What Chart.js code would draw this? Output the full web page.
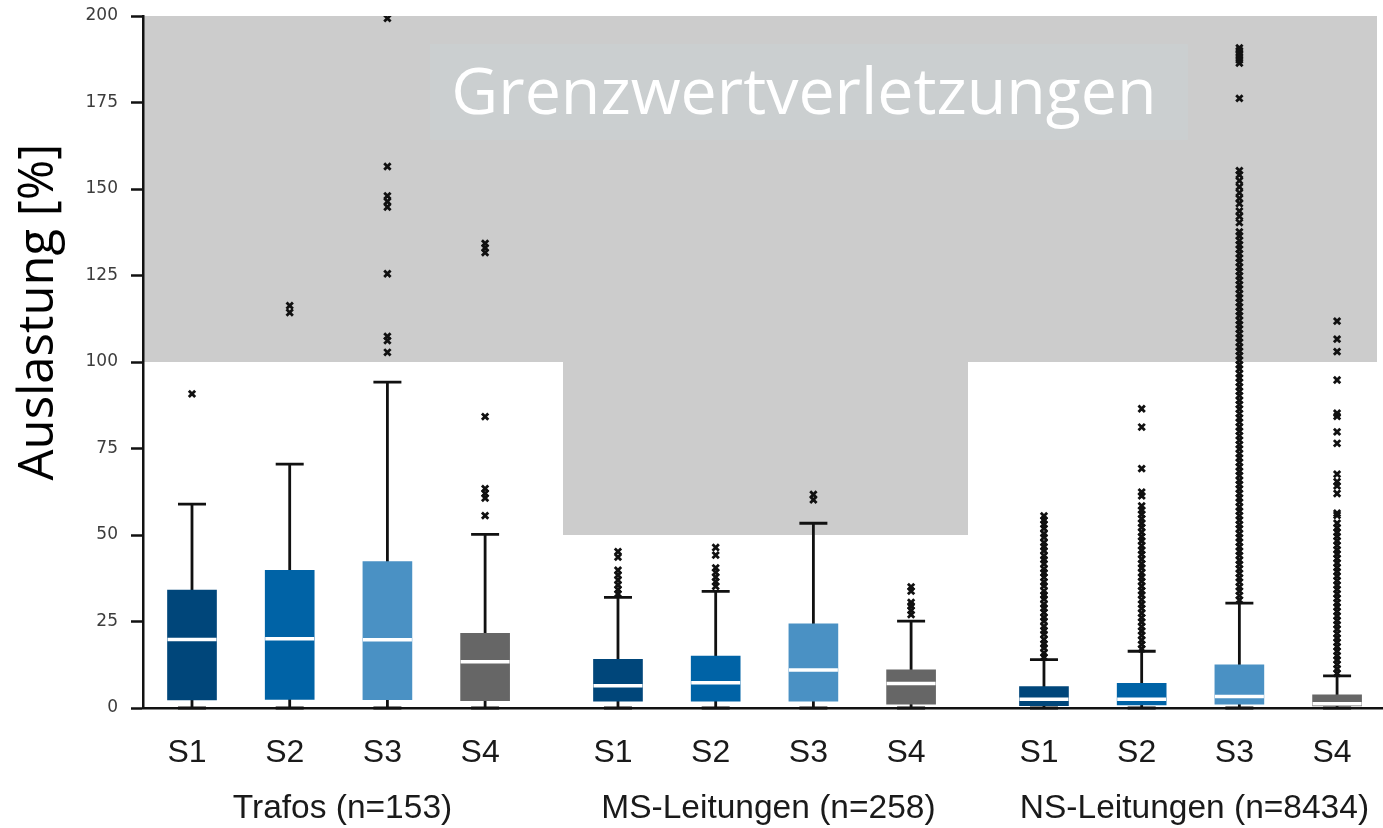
<!DOCTYPE html>
<html>
<head>
<meta charset="utf-8">
<script src="https://cdn.jsdelivr.net/npm/chart.js@4.4.1/dist/chart.umd.min.js"></script>
<style>
  html, body { margin: 0; padding: 0; background: #ffffff; }
  #wrap { width: 1383px; height: 828px; }
</style>
</head>
<body>
<div id="wrap"><canvas id="c" width="1383" height="828"></canvas></div>
<script>
// Betriebsmittelgruppen und Szenarien
const gruppen = ['Trafos (n=153)', 'MS-Leitungen (n=258)', 'NS-Leitungen (n=8434)'];
const szenarien = ['S1', 'S2', 'S3', 'S4'];
// Grenzwert je Gruppe [%]
const grenzwerte = [100, 50, 100];

// Boxplot-Kennwerte, Reihenfolge: Trafos S1..S4, MS S1..S4, NS S1..S4
const whiskerUnten = [0, 0, 0, 0,  0, 0, 0, 0,  0, 0, 0, 0];
const quartil1     = [2.3, 2.5, 2.4, 2.1,  2.0, 2.0, 2.0, 1.1,  0.7, 0.9, 1.1, 0.6];
const medianWerte  = [19.8, 20.0, 19.7, 13.4,  6.4, 7.3, 11.0, 7.1,  2.5, 2.5, 3.3, 1.2];
const quartil3     = [34.1, 39.8, 42.3, 21.6,  14.1, 15.0, 24.3, 11.0,  6.2, 7.1, 12.5, 3.8];
const whiskerOben  = [58.9, 70.5, 94.2, 50.2,  32.0, 33.7, 53.4, 25.1,  14.0, 16.4, 30.3, 9.3];

// Ausreißer
const ausreisserTrafoS1 = [90.8];
const ausreisserTrafoS2 = [114.3, 116.3];
const ausreisserTrafoS3 = [199.3, 156.5, 148.0, 146.4, 144.8, 125.5, 107.4, 106.2, 102.8];
const ausreisserTrafoS4 = [134.3, 133.0, 131.6, 84.2, 63.4, 62.0, 60.7, 55.6];
const ausreisserMsS1 = [45.2, 43.6, 39.8, 38.4, 37.0, 35.6, 34.2, 33.0];
const ausreisserMsS2 = [46.4, 44.2, 40.5, 39.2, 37.8, 36.5, 35.2];
const ausreisserMsS3 = [61.7, 60.2];
const ausreisserMsS4 = [35.0, 33.8, 30.5, 29.5, 28.2, 27.0];
const ausreisserNsS1 = [14.7, 15.9, 17.4, 18.5, 19.8, 21.3, 22.4, 23.6, 25.1, 26.2, 27.6, 28.9, 30.0, 31.5, 32.6,
  33.8, 35.3, 36.4, 37.8, 39.1, 40.2, 41.7, 42.9, 44.0, 45.5, 46.6, 47.8, 49.3, 50.4, 51.9, 53.1, 54.3, 55.5];
const ausreisserNsS2 = [17.1, 18.4, 19.6, 21.0, 22.3, 23.5, 24.9, 26.1, 27.4, 28.8, 30.0, 31.3, 32.7, 33.9, 35.2,
  36.6, 37.8, 39.1, 40.5, 41.7, 43.0, 44.4, 45.6, 46.9, 48.3, 49.5, 50.8, 52.2, 53.4, 54.7, 56.0, 57.2, 58.4,
  61.3, 62.4, 69.2, 81.2, 86.5];
const ausreisserNsS3 = [31.2, 32.5, 33.8, 35.0, 36.4, 37.6, 38.9, 40.2, 41.5, 42.7, 44.1, 45.3, 46.6, 47.9, 49.2,
  50.4, 51.8, 53.0, 54.3, 55.6, 56.9, 58.1, 59.5, 60.7, 62.0, 63.3, 64.6, 65.8, 67.2, 68.4, 69.7, 71.0, 72.3,
  73.5, 74.9, 76.1, 77.4, 78.7, 80.0, 81.2, 82.6, 83.8, 85.1, 86.4, 87.7, 88.9, 90.3, 91.5, 92.8, 94.1, 95.4,
  96.6, 98.0, 99.2, 100.5, 101.8, 103.1, 104.3, 105.7, 106.9, 108.2, 109.5, 110.8, 112.0, 113.4, 114.6, 115.9,
  117.2, 118.5, 119.7, 121.1, 122.3, 123.6, 124.9, 126.2, 127.4, 128.8, 130.0, 131.3, 132.6, 133.9, 135.1,
  136.5, 137.6, 140.3, 142.1, 143.6, 145.8, 147.3, 148.9, 150.6, 152.4, 154.1, 155.3, 176.2,
  186.4, 187.3, 188.2, 189.1, 190.0, 190.8];
const ausreisserNsS4 = [10.0, 11.3, 12.6, 13.9, 15.1, 16.4, 17.7, 19.0, 20.2, 21.5, 22.8, 24.1, 25.3, 26.6, 27.9,
  29.2, 30.4, 31.7, 33.0, 34.3, 35.5, 36.8, 38.1, 39.4, 40.6, 41.9, 43.2, 44.5, 45.7, 47.0, 48.3, 49.6, 50.8,
  52.1, 53.4, 55.7, 56.3, 62.0, 64.2, 65.4, 67.6, 76.5, 79.8, 84.3, 85.2, 94.8, 103.0, 106.6, 111.8];
const ausreisser = [
  ausreisserTrafoS1, ausreisserTrafoS2, ausreisserTrafoS3, ausreisserTrafoS4,
  ausreisserMsS1, ausreisserMsS2, ausreisserMsS3, ausreisserMsS4,
  ausreisserNsS1, ausreisserNsS2, ausreisserNsS3, ausreisserNsS4
];

const yTicks = [0, 25, 50, 75, 100, 125, 150, 175, 200];

// Farben je Szenario
const farben = ['#00467a', '#0063a6', '#4a91c4', '#666666'];

// Lage auf der x-Achse: 4 Boxen je Gruppe, Gruppen mit Abstand
const GRUPPEN_ABSTAND = 4.36;
const xPos = [];
gruppen.forEach((g, gi) => szenarien.forEach((s, si) => xPos.push(gi * GRUPPEN_ABSTAND + si)));
const X_MIN = -0.5015, X_MAX = 12.19;

const boxDaten = xPos.map((x, i) => ({ x: x, y: [quartil1[i], quartil3[i]] }));
const boxFarben = xPos.map((x, i) => farben[i % 4]);
const punktDaten = [];
ausreisser.forEach((werte, i) => werte.forEach(v => punktDaten.push({ x: xPos[i], y: v })));

// Grenzwertbereiche (grau) und Beschriftung
const zonenPlugin = {
  id: 'zonen',
  beforeDraw(chart) {
    const { ctx, scales: { x, y } } = chart;
    const kanten = [X_MIN, 3.797, 7.943, 12.129].map(v => Math.round(x.getPixelForValue(v)));
    ctx.save();
    ctx.fillStyle = '#cccccc';
    grenzwerte.forEach((gw, gi) => {
      const y0 = Math.round(y.getPixelForValue(200));
      const y1 = Math.round(y.getPixelForValue(gw));
      ctx.fillRect(kanten[gi], y0, kanten[gi + 1] - kanten[gi], y1 - y0);
    });
    // Kasten mit Überschrift
    const bx0 = x.getPixelForValue(2.436), bx1 = x.getPixelForValue(10.194);
    const by0 = y.getPixelForValue(191.9), by1 = y.getPixelForValue(164.2);
    ctx.fillStyle = '#cbcfd0';
    ctx.fillRect(bx0, by0, bx1 - bx0, by1 - by0);
    ctx.fillStyle = '#ffffff';
    ctx.font = '64.5px "Open Sans"';
    ctx.textAlign = 'center';
    ctx.textBaseline = 'alphabetic';
    ctx.fillText('Grenzwertverletzungen', (bx0 + bx1) / 2 - 5, y.getPixelForValue(171.7));
    ctx.restore();
  }
};

// Whisker und Mediane
const boxplotPlugin = {
  id: 'boxplot',
  beforeDatasetsDraw(chart) {
    const { ctx, scales: { x, y } } = chart;
    ctx.save();
    ctx.strokeStyle = '#111111';
    ctx.lineWidth = 2.8;
    ctx.lineCap = 'butt';
    xPos.forEach((xv, i) => {
      const px = x.getPixelForValue(xv);
      const yLo = y.getPixelForValue(whiskerUnten[i]);
      const yHi = y.getPixelForValue(whiskerOben[i]);
      ctx.beginPath();
      ctx.moveTo(px, yLo); ctx.lineTo(px, yHi);
      ctx.moveTo(px - 14, yLo); ctx.lineTo(px + 14, yLo);
      ctx.moveTo(px - 14, yHi); ctx.lineTo(px + 14, yHi);
      ctx.stroke();
    });
    ctx.restore();
  },
  afterDatasetDraw(chart, args) {
    if (args.index !== 1) return;
    const { ctx, scales: { x, y } } = chart;
    ctx.save();
    ctx.strokeStyle = '#ffffff';
    ctx.lineWidth = 3.5;
    xPos.forEach((xv, i) => {
      const px = x.getPixelForValue(xv);
      const py = y.getPixelForValue(medianWerte[i]);
      ctx.beginPath();
      ctx.moveTo(px - 24.5, py); ctx.lineTo(px + 24.5, py);
      ctx.stroke();
    });
    ctx.restore();
  }
};

// Achsentitel und Gruppenbeschriftung
const textPlugin = {
  id: 'texte',
  afterDraw(chart) {
    const { ctx, chartArea, scales: { x } } = chart;
    ctx.save();
    ctx.fillStyle = '#000000';
    ctx.font = '49px "Open Sans"';
    ctx.textAlign = 'center';
    ctx.textBaseline = 'alphabetic';
    ctx.translate(53, 312);
    ctx.rotate(-Math.PI / 2);
    ctx.fillText('Auslastung [%]', 0, 0);
    ctx.restore();

    ctx.save();
    ctx.fillStyle = '#1a1a1a';
    ctx.font = '33.5px "Liberation Sans"';
    ctx.textAlign = 'center';
    ctx.textBaseline = 'alphabetic';
    gruppen.forEach((g, gi) => {
      const mitte = gi * GRUPPEN_ABSTAND + 1.54;
      ctx.fillText(g, x.getPixelForValue(mitte), chartArea.bottom + 110);
    });
    ctx.restore();
  }
};

new Chart(document.getElementById('c'), {
  type: 'bar',
  data: {
    datasets: [
      {
        type: 'scatter',
        label: 'Ausreißer',
        data: punktDaten,
        pointStyle: 'crossRot',
        radius: 4.5,
        borderWidth: 2.8,
        borderColor: '#111111',
        backgroundColor: '#111111',
        order: 0
      },
      {
        type: 'bar',
        label: 'Interquartilsbereich',
        data: boxDaten,
        backgroundColor: boxFarben,
        borderWidth: 0,
        barThickness: 49,
        order: 1
      }
    ]
  },
  options: {
    responsive: false,
    animation: false,
    devicePixelRatio: 1,
    layout: { autoPadding: false, padding: { top: 16, right: 0, bottom: 0, left: 0 } },
    plugins: { legend: { display: false }, tooltip: { enabled: false } },
    scales: {
      x: {
        type: 'linear',
        min: X_MIN,
        max: X_MAX,
        offset: false,
        afterFit(s) { s.height = 120; s.paddingLeft = 0; s.paddingRight = 0; },
        afterBuildTicks(s) { s.ticks = xPos.map(v => ({ value: v })); },
        grid: { display: false, drawTicks: false },
        border: { display: true, color: '#111111', width: 2.5 },
        ticks: {
          autoSkip: false,
          maxRotation: 0,
          padding: 26,
          labelOffset: -5,
          color: '#1a1a1a',
          font: { family: 'Liberation Sans', size: 32 },
          callback: (v, i) => szenarien[i % 4]
        }
      },
      y: {
        min: 0,
        max: 200,
        afterFit(s) { s.width = 143; s.paddingTop = 0; s.paddingBottom = 0; },
        afterBuildTicks(s) { s.ticks = yTicks.map(v => ({ value: v })); },
        grid: { drawOnChartArea: false, drawTicks: true, tickLength: 12, tickColor: '#111111', tickWidth: 2.5 },
        border: { display: true, color: '#111111', width: 2.5 },
        ticks: {
          padding: 13,
          color: '#3c3c3c',
          font: { family: 'DejaVu Sans', size: 17 }
        }
      }
    }
  },
  plugins: [zonenPlugin, boxplotPlugin, textPlugin]
});
</script>
</body>
</html>
